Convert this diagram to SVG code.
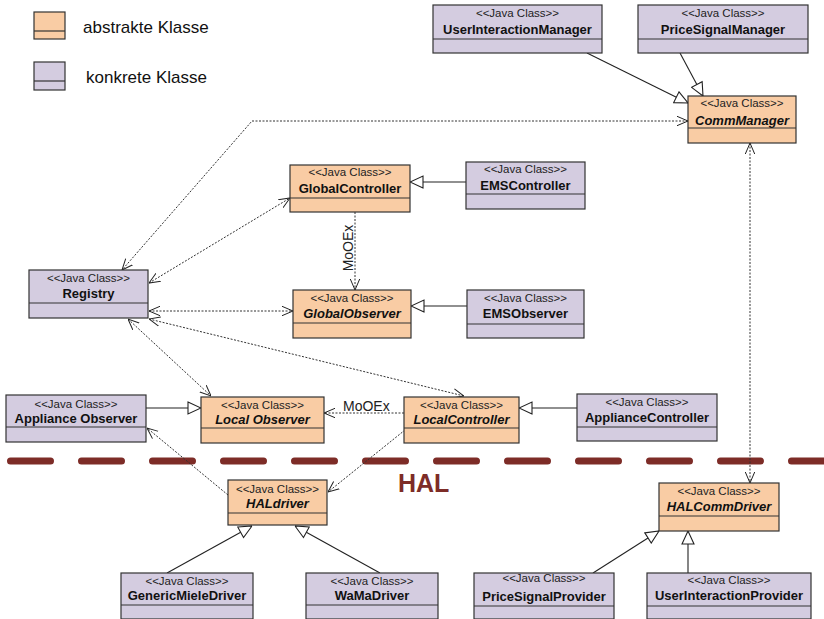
<svg xmlns="http://www.w3.org/2000/svg" width="824" height="619" viewBox="0 0 824 619">
  <style>
    .abs { fill: #f9cca4; stroke: #333; stroke-width: 1.2; }
    .con { fill: #d4cce0; stroke: #333; stroke-width: 1.2; }
    .div { stroke: #333; stroke-width: 1.2; }
    .st { font-family: "Liberation Sans", Arial, sans-serif; font-size: 11.5px; fill: #222; text-anchor: middle; }
    .nm { font-family: "Liberation Sans", Arial, sans-serif; font-size: 13px; font-weight: bold; fill: #111; text-anchor: middle; }
    .it { font-style: italic; }
    .leg { font-family: "Liberation Sans", Arial, sans-serif; font-size: 17px; fill: #111; }
    .lbl { font-family: "Liberation Sans", Arial, sans-serif; font-size: 14px; fill: #222; }
    .gen { fill: none; stroke: #222; stroke-width: 1.1; marker-end: url(#tri); }
    .dep { fill: none; stroke: #333; stroke-width: 1; stroke-dasharray: 2 1.5; }
  </style>
  <defs>
    <marker id="tri" viewBox="0 0 14 14" refX="14" refY="7" markerWidth="14" markerHeight="14" markerUnits="userSpaceOnUse" orient="auto">
      <path d="M1,1 L14,7 L1,13 Z" fill="#fff" stroke="#222" stroke-width="1.1"/>
    </marker>
    <marker id="open" viewBox="0 0 11 11" refX="11" refY="5.5" markerWidth="11" markerHeight="11" markerUnits="userSpaceOnUse" orient="auto-start-reverse">
      <path d="M0,0.8 L11,5.5 L0,10.2" fill="none" stroke="#222" stroke-width="1"/>
    </marker>
  </defs>

  <!-- legend -->
  <g id="legend">
    <rect class="abs" x="34" y="12" width="31" height="27"/>
    <line class="div" x1="34" y1="31" x2="65" y2="31"/>
    <text class="leg" x="83" y="33">abstrakte Klasse</text>
    <rect class="con" x="34" y="62" width="31" height="28"/>
    <line class="div" x1="34" y1="81" x2="65" y2="81"/>
    <text class="leg" x="86" y="83">konkrete Klasse</text>
  </g>

  <!-- HAL boundary -->
  <g id="hal-boundary">
    <line x1="10.5" y1="461" x2="824" y2="461" stroke="#7d2c27" stroke-width="7" stroke-linecap="round" stroke-dasharray="40 31"/>
    <text x="398" y="492" font-family="'Liberation Sans', Arial, sans-serif" font-size="25" font-weight="bold" fill="#7d2c27">HAL</text>
  </g>

  <!-- connectors -->
  <g id="connectors">
    <!-- generalizations -->
    <line class="gen" x1="587" y1="53" x2="688" y2="103"/>
    <line class="gen" x1="680" y1="53" x2="703" y2="96"/>
    <line class="gen" x1="466" y1="182" x2="410" y2="182"/>
    <line class="gen" x1="467" y1="306" x2="411" y2="306"/>
    <line class="gen" x1="146" y1="408" x2="201" y2="408"/>
    <line class="gen" x1="577" y1="408" x2="519" y2="408"/>
    <line class="gen" x1="167" y1="573" x2="252" y2="526"/>
    <line class="gen" x1="380" y1="573" x2="295" y2="526"/>
    <line class="gen" x1="593" y1="573" x2="659" y2="531"/>
    <line class="gen" x1="688" y1="573" x2="688" y2="531"/>
    <!-- bidirectional dependencies -->
    <polyline class="dep" points="688,121 252,121 122,270" marker-start="url(#open)" marker-end="url(#open)"/>
    <line class="dep" x1="750" y1="143" x2="750" y2="483" marker-start="url(#open)" marker-end="url(#open)"/>
    <line class="dep" x1="149" y1="283" x2="290" y2="198" marker-start="url(#open)" marker-end="url(#open)"/>
    <line class="dep" x1="149" y1="311" x2="293" y2="311" marker-start="url(#open)" marker-end="url(#open)"/>
    <line class="dep" x1="149" y1="319" x2="464" y2="396" marker-start="url(#open)" marker-end="url(#open)"/>
    <line class="dep" x1="128" y1="319" x2="211" y2="396" marker-start="url(#open)" marker-end="url(#open)"/>
    <!-- one-way dependencies -->
    <line class="dep" x1="355" y1="212" x2="355" y2="290" marker-end="url(#open)"/>
    <line class="dep" x1="404" y1="413" x2="324" y2="413" marker-end="url(#open)"/>
    <line class="dep" x1="405" y1="430" x2="328" y2="492" marker-end="url(#open)"/>
    <line class="dep" x1="228" y1="495" x2="147" y2="428" marker-end="url(#open)"/>
    <!-- labels -->
    <text class="lbl" x="0" y="0" text-anchor="middle" transform="translate(353,248) rotate(-90)">MoOEx</text>
    <text class="lbl" x="343" y="411">MoOEx</text>
  </g>

  <!-- classes -->
  <g id="UserInteractionManager">
    <rect class="con" x="433" y="5" width="169" height="48"/>
    <line class="div" x1="433" y1="39" x2="602" y2="39"/>
    <text class="st" x="517.5" y="17">&lt;&lt;Java Class&gt;&gt;</text>
    <text class="nm" x="517.5" y="34">UserInteractionManager</text>
  </g>
  <g id="PriceSignalManager">
    <rect class="con" x="638" y="5" width="170" height="48"/>
    <line class="div" x1="638" y1="39" x2="808" y2="39"/>
    <text class="st" x="723" y="17">&lt;&lt;Java Class&gt;&gt;</text>
    <text class="nm" x="723" y="34">PriceSignalManager</text>
  </g>
  <g id="CommManager">
    <rect class="abs" x="688" y="96" width="108" height="47"/>
    <line class="div" x1="688" y1="128" x2="796" y2="128"/>
    <text class="st" x="742" y="107">&lt;&lt;Java Class&gt;&gt;</text>
    <text class="nm it" x="742" y="125">CommManager</text>
  </g>
  <g id="GlobalController">
    <rect class="abs" x="290" y="165" width="120" height="47"/>
    <line class="div" x1="290" y1="198" x2="410" y2="198"/>
    <text class="st" x="350" y="176">&lt;&lt;Java Class&gt;&gt;</text>
    <text class="nm" x="350" y="193">GlobalController</text>
  </g>
  <g id="EMSController">
    <rect class="con" x="466" y="162" width="119" height="47"/>
    <line class="div" x1="466" y1="194" x2="585" y2="194"/>
    <text class="st" x="525.5" y="173">&lt;&lt;Java Class&gt;&gt;</text>
    <text class="nm" x="525.5" y="190">EMSController</text>
  </g>
  <g id="GlobalObserver">
    <rect class="abs" x="293" y="290" width="118" height="48"/>
    <line class="div" x1="293" y1="323" x2="411" y2="323"/>
    <text class="st" x="352" y="302">&lt;&lt;Java Class&gt;&gt;</text>
    <text class="nm it" x="352" y="318">GlobalObserver</text>
  </g>
  <g id="EMSObserver">
    <rect class="con" x="467" y="290" width="117" height="48"/>
    <line class="div" x1="467" y1="324" x2="584" y2="324"/>
    <text class="st" x="525.5" y="302">&lt;&lt;Java Class&gt;&gt;</text>
    <text class="nm" x="525.5" y="318">EMSObserver</text>
  </g>
  <g id="Registry">
    <rect class="con" x="29" y="270" width="119" height="48"/>
    <line class="div" x1="29" y1="303" x2="148" y2="303"/>
    <text class="st" x="88.5" y="282">&lt;&lt;Java Class&gt;&gt;</text>
    <text class="nm" x="88.5" y="298">Registry</text>
  </g>
  <g id="ApplianceObserver">
    <rect class="con" x="6" y="395" width="140" height="47"/>
    <line class="div" x1="6" y1="427" x2="146" y2="427"/>
    <text class="st" x="76" y="408">&lt;&lt;Java Class&gt;&gt;</text>
    <text class="nm" x="76" y="423">Appliance Observer</text>
  </g>
  <g id="LocalObserver">
    <rect class="abs" x="201" y="397" width="123" height="46"/>
    <line class="div" x1="201" y1="428" x2="324" y2="428"/>
    <text class="st" x="262.5" y="409">&lt;&lt;Java Class&gt;&gt;</text>
    <text class="nm it" x="262.5" y="424">Local Observer</text>
  </g>
  <g id="LocalController">
    <rect class="abs" x="404" y="397" width="115" height="46"/>
    <line class="div" x1="404" y1="428" x2="519" y2="428"/>
    <text class="st" x="461.5" y="409">&lt;&lt;Java Class&gt;&gt;</text>
    <text class="nm it" x="461.5" y="424">LocalController</text>
  </g>
  <g id="ApplianceController">
    <rect class="con" x="577" y="394" width="140" height="47"/>
    <line class="div" x1="577" y1="427" x2="717" y2="427"/>
    <text class="st" x="647" y="406">&lt;&lt;Java Class&gt;&gt;</text>
    <text class="nm" x="647" y="422">ApplianceController</text>
  </g>
  <g id="HALdriver">
    <rect class="abs" x="228" y="480" width="99" height="45"/>
    <line class="div" x1="228" y1="513" x2="327" y2="513"/>
    <text class="st" x="277.5" y="493">&lt;&lt;Java Class&gt;&gt;</text>
    <text class="nm it" x="277.5" y="508">HALdriver</text>
  </g>
  <g id="HALCommDriver">
    <rect class="abs" x="659" y="483" width="120" height="48"/>
    <line class="div" x1="659" y1="516" x2="779" y2="516"/>
    <text class="st" x="719" y="495">&lt;&lt;Java Class&gt;&gt;</text>
    <text class="nm it" x="719" y="511">HALCommDriver</text>
  </g>
  <g id="GenericMieleDriver">
    <rect class="con" x="121" y="573" width="132" height="46"/>
    <line class="div" x1="121" y1="605" x2="253" y2="605"/>
    <text class="st" x="187" y="585">&lt;&lt;Java Class&gt;&gt;</text>
    <text class="nm" x="187" y="600">GenericMieleDriver</text>
  </g>
  <g id="WaMaDriver">
    <rect class="con" x="306" y="573" width="132" height="46"/>
    <line class="div" x1="306" y1="605" x2="438" y2="605"/>
    <text class="st" x="372" y="585">&lt;&lt;Java Class&gt;&gt;</text>
    <text class="nm" x="372" y="600">WaMaDriver</text>
  </g>
  <g id="PriceSignalProvider">
    <rect class="con" x="474" y="573" width="140" height="46"/>
    <line class="div" x1="474" y1="606" x2="614" y2="606"/>
    <text class="st" x="544" y="582">&lt;&lt;Java Class&gt;&gt;</text>
    <text class="nm" x="544" y="601">PriceSignalProvider</text>
  </g>
  <g id="UserInteractionProvider">
    <rect class="con" x="647" y="573" width="164" height="46"/>
    <line class="div" x1="647" y1="606" x2="811" y2="606"/>
    <text class="st" x="729" y="584">&lt;&lt;Java Class&gt;&gt;</text>
    <text class="nm" x="729" y="600">UserInteractionProvider</text>
  </g>
</svg>
